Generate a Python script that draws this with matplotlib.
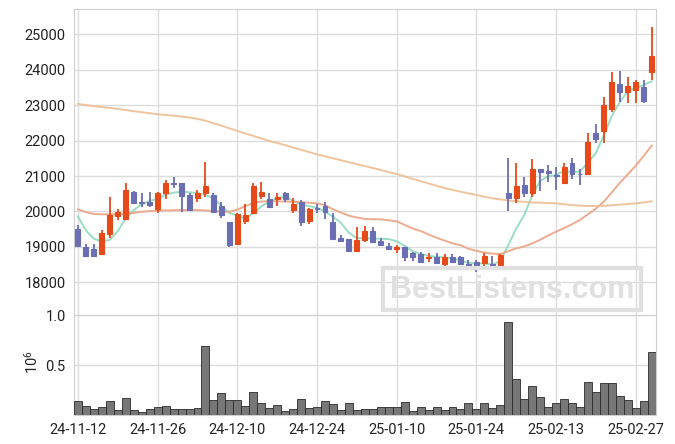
import matplotlib
matplotlib.use('Agg')
import matplotlib.pyplot as plt
from matplotlib.patches import Rectangle
import numpy as np

plt.rcParams['font.family'] = ['Roboto', 'DejaVu Sans']
plt.rcParams['mathtext.fontset'] = 'custom'
plt.rcParams['mathtext.rm'] = 'Roboto'

# dados (índice = dia de pregão)
tick_idx = [0, 10, 20, 30, 40, 50, 60, 70]
tick_labels = ['24-11-12', '24-11-26', '24-12-10', '24-12-24',
               '25-01-10', '25-01-24', '25-02-13', '25-02-27']

opens = [19504, 18988, 18940, 18790, 19371, 19879, 19795, 20548, 20270, 20266,
         20068, 20528, 20800, 20794, 20464, 20387, 20512, 20464, 20153, 19702,
         19081, 19738, 19964, 20444, 20342, 20342, 20512, 20040, 20266, 19738,
         20100, 20153, 19702, 19259, 19213, 18892, 19194, 19448, 19174, 19033,
         18940, 18988, 18818, 18790, 18677, 18705, 18508, 18705, 18705, 18516,
         18564, 18536, 18508, 18469, 20529, 20387, 20754, 20529, 21189, 21141,
         21040, 20794, 21358, 21070, 21056, 22205, 22278, 22882, 23596, 23379,
         23427, 23520, 23943]
highs = [19617, 19081, 19072, 19467, 20407, 20060, 20794, 20585, 20512, 20540,
         20557, 20887, 20980, 20794, 20529, 20605, 21386, 20529, 20275, 19702,
         19964, 20201, 20811, 20822, 20512, 20529, 20540, 20370, 20323, 20088,
         20210, 20275, 19947, 19335, 19213, 19569, 19589, 19569, 19242, 19100,
         19053, 19005, 18847, 18864, 18818, 18818, 18790, 18790, 18742, 18629,
         18629, 18818, 18742, 18799, 21499, 21375, 20963, 21480, 21189, 21310,
         21262, 21375, 21499, 21189, 22205, 22467, 23238, 23943, 23971, 23785,
         23709, 23709, 25196]
lows = [19005, 18740, 18723, 18790, 19242, 19758, 19790, 20210, 20133, 20133,
        19947, 20351, 20653, 19992, 20040, 20275, 20416, 19973, 19806, 19005,
        19081, 19645, 19927, 20342, 20133, 20153, 20275, 19947, 19589, 19637,
        19947, 19778, 19213, 19137, 18892, 18892, 19129, 19146, 19033, 18920,
        18818, 18601, 18610, 18564, 18581, 18508, 18469, 18536, 18508, 18347,
        18300, 18395, 18395, 18412, 20012, 20229, 20416, 20416, 20585, 20839,
        20605, 20794, 20906, 20746, 21056, 21923, 21923, 22814, 23097, 23068,
        23068, 23051, 23709]
closes = [19033, 18751, 18751, 19391, 19899, 19984, 20605, 20246, 20250, 20190,
          20520, 20811, 20780, 20444, 20040, 20529, 20726, 19992, 19891, 19061,
          19936, 19891, 20718, 20548, 20133, 20416, 20342, 20210, 19710, 20060,
          20080, 19976, 19230, 19174, 18892, 19194, 19448, 19146, 19053, 18940,
          18988, 18722, 18705, 18581, 18714, 18536, 18705, 18581, 18508, 18423,
          18367, 18742, 18395, 18770, 20387, 20726, 20529, 21197, 21113, 21094,
          21010, 21262, 21056, 21050, 21951, 22035, 23003, 23644, 23379, 23540,
          23653, 23125, 24386]

# volume em milhões
volume = [0.143, 0.092, 0.061, 0.078, 0.143, 0.051, 0.170, 0.051, 0.027, 0.061,
          0.078, 0.088, 0.061, 0.061, 0.061, 0.071, 0.690, 0.153, 0.224, 0.153,
          0.153, 0.088, 0.235, 0.119, 0.071, 0.099, 0.041, 0.061, 0.163, 0.071,
          0.078, 0.143, 0.109, 0.051, 0.119, 0.051, 0.061, 0.061, 0.078, 0.078,
          0.078, 0.129, 0.041, 0.078, 0.051, 0.078, 0.051, 0.078, 0.061, 0.119,
          0.061, 0.119, 0.071, 0.099, 0.935, 0.364, 0.163, 0.293, 0.180, 0.078,
          0.119, 0.163, 0.119, 0.078, 0.327, 0.235, 0.316, 0.316, 0.190, 0.153,
          0.071, 0.143, 0.633]

# médias móveis
ma_short = [19860, 19460, 19230, 19150, 19200, 19450, 19800, 20040, 20200, 20300,
            20350, 20480, 20530, 20557, 20540, 20520, 20460, 20380, 20150, 19960,
            19880, 19800, 19950, 20140, 20280, 20380, 20416, 20300, 20200, 20150,
            20100, 20000, 19850, 19680, 19400, 19250, 19240, 19240, 19230, 19220,
            19160, 19030, 18880, 18800, 18750, 18720, 18705, 18670, 18620, 18550,
            18536, 18536, 18500, 18600, 19050, 19520, 19900, 20450, 20860, 20990,
            21030, 21150, 21100, 21130, 21380, 21650, 22150, 22700, 23080, 23400,
            23480, 23570, 23670]
ma_mid = [20060, 19980, 19930, 19920, 19919, 19919, 19930, 19960, 19990, 20010,
          20021, 20030, 20035, 20040, 20040, 20040, 20030, 20010, 19995, 19992,
          20050, 20150, 20240, 20280, 20290, 20285, 20280, 20275, 20260, 20245,
          20229, 20180, 20060, 19970, 19880, 19830, 19790, 19780, 19778, 19750,
          19721, 19620, 19520, 19450, 19350, 19260, 19180, 19100, 19050, 18950,
          18890, 18840, 18810, 18800, 18880, 18960, 19010, 19100, 19200, 19320,
          19430, 19530, 19640, 19760, 19920, 20080, 20280, 20540, 20810, 21050,
          21290, 21570, 21855]
ma_long = [23030, 23000, 22970, 22945, 22920, 22890, 22860, 22830, 22800, 22770,
           22740, 22720, 22700, 22675, 22650, 22610, 22560, 22490, 22420, 22345,
           22270, 22200, 22130, 22060, 21990, 21930, 21870, 21800, 21740, 21675,
           21610, 21555, 21500, 21445, 21390, 21335, 21280, 21225, 21170, 21110,
           21056, 20990, 20920, 20855, 20790, 20725, 20660, 20610, 20557, 20510,
           20464, 20415, 20370, 20340, 20310, 20290, 20270, 20255, 20245, 20235,
           20229, 20205, 20180, 20165, 20155, 20155, 20160, 20175, 20195, 20210,
           20229, 20255, 20286]

cor_alta = '#E64A19'
cor_baixa = '#6A6EB3'

fig = plt.figure(figsize=(6.75, 4.44), dpi=100)
ax = fig.add_axes([0.1096, 0.2905, 0.8618, 0.6885])
ax2 = fig.add_axes([0.1096, 0.0653, 0.8618, 0.2252], sharex=ax)

x = np.arange(len(closes))
o = np.array(opens)
c = np.array(closes)
sobe = c > o
cores = np.where(sobe, cor_alta, cor_baixa)

# pavios e corpos
ax.vlines(x, lows, highs, colors=cores, linewidth=1.3, zorder=3)
ax.bar(x, np.abs(c - o), bottom=np.minimum(o, c), width=0.62,
       color=cores, edgecolor=cores, linewidth=0.8, zorder=4)

ax.plot(x, ma_short, color='#8FDABD', linewidth=1.4, alpha=0.9, zorder=2)
ax.plot(x, ma_mid, color='#EDA383', linewidth=1.4, alpha=0.9, zorder=2)
ax.plot(x, ma_long, color='#EEBE92', linewidth=1.4, alpha=0.9, zorder=2)

ax.set_ylim(17080, 25700)
ax.set_yticks(range(18000, 25001, 1000))
ax.set_xlim(-0.5, 72.5)
ax.set_xticks(tick_idx)
ax.tick_params(axis='x', labelbottom=False)

ax2.bar(x, volume, width=1.0, color='#777777', edgecolor='#2a2a2a',
        linewidth=0.6, zorder=3)
ax2.set_ylim(0, 1.0)
ax2.set_yticks([0.5, 1.0])
ax2.set_yticklabels(['0.5', '1.0'])
ax2.set_xticks(tick_idx)
ax2.set_xticklabels(tick_labels)

for a in (ax, ax2):
    a.grid(True, color='#dcdcdc', linewidth=1.0, zorder=0)
    a.set_axisbelow(True)
    a.tick_params(length=0, labelsize=10.5, colors='#222222', pad=6)
    for s in a.spines.values():
        s.set_color('#d0d0d0')

fig.text(0.047, 1 - 362 / 444, r'$\mathregular{10^6}$', rotation=90,
         ha='center', va='center', fontsize=10.5, color='#222222')

# marca d'água
fig.patches.append(Rectangle((383 / 675, 1 - 310 / 444), 258 / 675, 42 / 444,
                             transform=fig.transFigure, fill=False,
                             edgecolor='#e0e0e0', linewidth=3, zorder=1))
fig.text(512 / 675, 1 - 290 / 444, 'BestListens.com', ha='center', va='center',
         fontsize=22, fontweight='bold', family='Liberation Sans',
         color='#e0e0e0', zorder=1)

fig.savefig('out.png', dpi=100)
